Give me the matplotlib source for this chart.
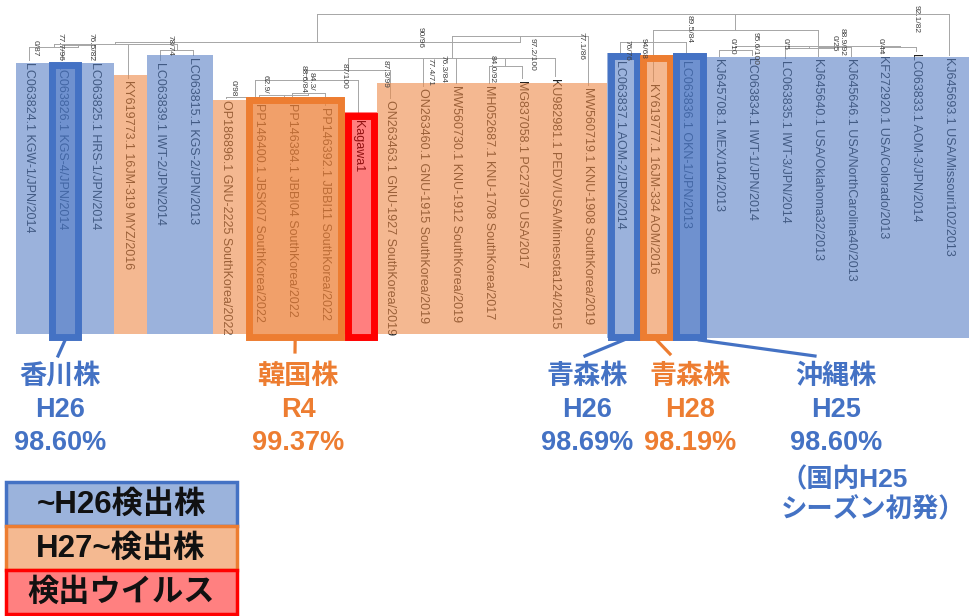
import matplotlib
matplotlib.use('Agg')
import matplotlib.pyplot as plt
from matplotlib.colors import to_rgba
from matplotlib.patches import Rectangle
import numpy as np

# leaves of the tree, left to right
leaf_names = [
    "LC063824.1 KGW-1/JPN/2014", "LC063826.1 KGS-4/JPN/2014", "LC063825.1 HRS-1/JPN/2014",
    "KY619773.1 16JM-319 MYZ/2016", "LC063839.1 IWT-2/JPN/2014", "LC063815.1 KGS-2/JPN/2013",
    "OP186896.1 GNU-2225 SouthKorea/2022", "PP146400.1 JBSK07 SouthKorea/2022",
    "PP146384.1 JBBI04 SouthKorea/2022", "PP146392.1 JBBI11 SouthKorea/2022", "Kagawa1",
    "ON263463.1 GNU-1927 SouthKorea/2019", "ON263460.1 GNU-1915 SouthKorea/2019",
    "MW560730.1 KNU-1912 SouthKorea/2019", "MH052687.1 KNU-1708 SouthKorea/2017",
    "MG837058.1 PC273IO USA/2017", "KU982981.1 PEDV/USA/Minnesota124/2015",
    "MW560719.1 KNU-1908 SouthKorea/2019", "LC063837.1 AOM-2/JPN/2014",
    "KY619777.1 16JM-334 AOM/2016", "LC063836.1 OKN-1/JPN/2013", "KJ645708.1 MEX/104/2013",
    "LC063834.1 IWT-1/JPN/2014", "LC063835.1 IWT-3/JPN/2014", "KJ645640.1 USA/Oklahoma32/2013",
    "KJ645646.1 USA/NorthCarolina40/2013", "KF272920.1 USA/Colorado/2013",
    "LC063833.1 AOM-3/JPN/2014", "KJ645693.1 USA/Missouri102/2013",
]
# b = ~H26, o = H27~, r = detected virus
leaf_group = list("bbbobboooorooooooobobbbbbbbbb")

boot_txt = ["0/87", "77.7/96", "76.5/82", "78/74", "0/98", "62.9/", "88.6/84", "84.3/",
            "87/100", "87.3/99", "90/96", "77.4/71", "76.3/84", "84.0/92", "97.2/100",
            "77.1/86", "76/76", "94/68", "89.5/84", "0/10", "95.6/100", "0/5", "0/25",
            "88.9/92", "0/44", "92.1/82"]
boot_leaf = [0.2, 0.95, 1.9, 4.3, 6.2, 7.2, 8.35, 8.6, 9.6, 10.85, 11.9, 12.2, 12.6, 14.1,
             15.3, 16.8, 18.2, 18.7, 20.1, 21.4, 22.1, 23.0, 24.5, 24.75, 25.9, 27.0]

notes = [
    (["香川株", "H26", "98.60%"], "#4472C4", 1),
    (["韓国株", "R4", "99.37%"], "#ED7D31", 8),
    (["青森株", "H26", "98.69%"], "#4472C4", 18),
    (["青森株", "H28", "98.19%"], "#ED7D31", 19),
    (["沖縄株", "H25", "98.60%", "（国内H25", "シーズン初発）"], "#4472C4", 20),
]
legend_txt = ["~H26検出株", "H27~検出株", "検出ウイルス"]

# ---- layout ----
boot_y = [40, 33, 33, 35, 80, 75, 65, 72, 63, 60, 27, 58, 55, 55, 38, 32, 40, 38, 15,
          38, 32, 38, 35, 28, 38, 5]
tip_y = [62, 62, 62, 80, 62, 57, 100, 103, 103, 107, 120, 100, 88, 85, 85, 80, 78, 87,
         60, 83, 60, 58, 57, 60, 58, 58, 55, 53, 57]
band_top = [63, 63, 63, 75, 55, 55, 100, 97, 97, 97, 112, 83, 83, 83, 83, 83, 83, 83,
            53, 55, 53, 57, 57, 57, 57, 57, 57, 57, 57]
band_bot = [334] * 18 + [338] * 11
band_col = {'b': ('#5880C5', 0.6), 'o': ('#ED8A48', 0.6), 'r': ('#FF0000', 0.5)}
boxes = [(1, 1, '#4472C4', 0.5, 65), (7, 9, '#ED7D31', 0.4, 100), (10, 10, '#FF0000', 0.0, 116),
         (18, 18, '#4472C4', 0.0, 56), (19, 19, '#ED7D31', 0.0, 58), (20, 20, '#4472C4', 0.5, 56)]

tree = (14, [(42, [(44, [(47, [0, (45, [1, 2])]), 3, (50, [4, 5])]),
                   (36, [(58, [(70, [(80, [(97, [6, (95, [7, (93, [8, 9])])]), 10]), 11]),
                               12, 13, (66, [14, 15]), 16]), 17])]),
             (30, [(42, [18, 19, 20]),
                   (46, [(50, [21, 22]), (48, [23, (47, [24, 25])]), (47, [26, 27])])]),
             28])

narrow = ['Liberation Sans']
jp = ['Liberation Sans', 'Noto Sans CJK JP']

fig = plt.figure(figsize=(9.71, 6.16), dpi=100)
ax = fig.add_axes([0, 0, 1, 1])
step = 32.86
ax.set_xlim(-29 / step, (971 - 29) / step)
ax.set_ylim(616, 0)
ax.axis('off')

n = len(leaf_names)
idx = np.arange(n)

# leaf labels (under translucent bands)
for i, name in enumerate(leaf_names):
    ax.text(i, tip_y[i], name, rotation=270, ha='center', va='top', fontsize=9,
            family=narrow, color='#222222', zorder=1)

cols = [to_rgba(*band_col[g]) for g in leaf_group]
ax.bar(idx + 0.1, np.array(band_bot) - np.array(band_top), bottom=band_top, width=1.0,
       color=cols, linewidth=0, zorder=2)

for a, b, ec, fa, top in boxes:
    ax.bar((a + b) / 2 + 0.1, 337 - top, bottom=top, width=b - a + 0.8,
           color=to_rgba(ec, fa), edgecolor=ec, linewidth=5, zorder=3)


def draw(node):
    if isinstance(node, int):
        return node, tip_y[node] - 2
    y, kids = node
    pts = [draw(k) for k in kids]
    xs = [p[0] for p in pts]
    for x, ty in pts:
        ax.plot([x, x], [y, ty], color='#A6A6A6', lw=0.7, zorder=1)
    ax.plot([min(xs), max(xs)], [y, y], color='#A6A6A6', lw=0.7, zorder=1)
    return (min(xs) + max(xs)) / 2, y


draw(tree)

for t, x, y in zip(boot_txt, boot_leaf, boot_y):
    ax.text(x, y, t, rotation=270, ha='center', va='top', fontsize=6, family=narrow,
            color='#404040', zorder=5)

# annotations in pixel coordinates
ax2 = fig.add_axes([0, 0, 1, 1])
ax2.set_xlim(0, 971)
ax2.set_ylim(616, 0)
ax2.axis('off')
ax2.patch.set_alpha(0)

note_x = [60, 298, 587, 690, 836]
line_end = [(58, 356), (295, 352), (585, 356), (670, 354), (815, 356)]
rows_y = [377, 410, 443, 480, 510]
for (lines, c, leaf), nx, (lx, ly) in zip(notes, note_x, line_end):
    px = 29 + step * (leaf + 0.1)
    if leaf == 20:
        px = 29 + step * 20.4
    ax2.plot([px, lx], [340, ly], color=c, lw=2.3)
    for k, s in enumerate(lines):
        if k < 3:
            ax2.text(nx, rows_y[k], s, ha='center', va='center', fontsize=19.5,
                     family=jp, weight='bold', color=c)
        else:
            ax2.text(781, rows_y[k], s, ha='left', va='center', fontsize=19,
                     family=jp, weight='bold', color=c)

leg_fc = ['#9BB3DC', '#F4B991', '#FF8080']
leg_ec = ['#4472C4', '#ED7D31', '#FF0000']
leg_y = [482, 526, 570]
for t, fc, ec, y in zip(legend_txt, leg_fc, leg_ec, leg_y):
    ax2.add_patch(Rectangle((6, y), 231, 44, facecolor=fc, edgecolor=ec, lw=2.5))
    ax2.text(121, y + 23, t, ha='center', va='center', fontsize=22.5, family=jp,
             weight='bold', color='#111111')

fig.savefig('out.png', dpi=100)
